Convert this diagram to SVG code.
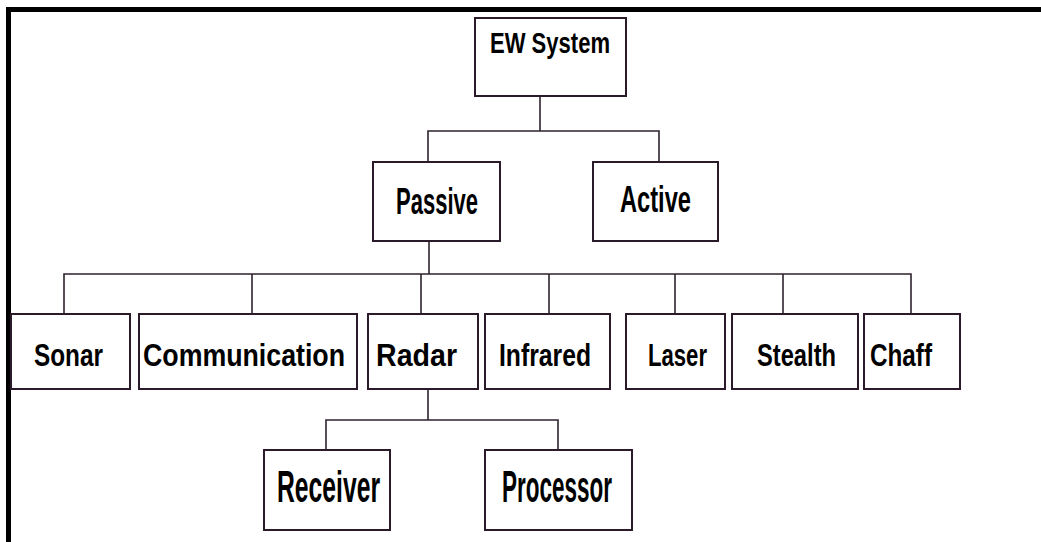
<svg xmlns="http://www.w3.org/2000/svg" width="1041" height="542" viewBox="0 0 1041 542">
  <style>
    .box { fill: #ffffff; stroke: #2a1a2a; stroke-width: 2; }
    .lbl { font-family: "Liberation Sans", Arial, sans-serif; font-weight: bold; fill: #000000; text-anchor: start; }
    .conn { fill: none; stroke: #2e222e; stroke-width: 1.6; }
  </style>
  <rect x="0" y="0" width="1041" height="542" fill="#ffffff"/>
  <g id="frame">
    <rect x="6" y="7" width="1035" height="5" fill="#000000"/>
    <rect x="6" y="7" width="5" height="535" fill="#000000"/>
  </g>
  <g id="connectors">
    <path class="conn" d="M540 96 V131 M428 162 V131 H659 V162"/>
    <path class="conn" d="M429 241 V274 M64 314 V274 H911 V314 M252 274 V314 M421 274 V314 M549 274 V314 M675 274 V314 M783 274 V314"/>
    <path class="conn" d="M428 389 V420 M326 450 V420 H558 V450"/>
  </g>
  <g id="node-ew-system">
    <rect class="box" x="475" y="18" width="151" height="78"/>
    <text class="lbl" x="490" y="53" font-size="29" textLength="120" lengthAdjust="spacingAndGlyphs">EW System</text>
  </g>
  <g id="node-passive">
    <rect class="box" x="373" y="162" width="127" height="79"/>
    <text class="lbl" x="396" y="214" font-size="37" textLength="82" lengthAdjust="spacingAndGlyphs">Passive</text>
  </g>
  <g id="node-active">
    <rect class="box" x="593" y="162" width="125" height="79"/>
    <text class="lbl" x="620" y="212" font-size="37" textLength="71" lengthAdjust="spacingAndGlyphs">Active</text>
  </g>
  <g id="node-sonar">
    <rect class="box" x="11" y="314" width="119" height="75"/>
    <text class="lbl" x="34" y="366" font-size="32" textLength="69" lengthAdjust="spacingAndGlyphs">Sonar</text>
  </g>
  <g id="node-communication">
    <rect class="box" x="139" y="314" width="218" height="75"/>
    <text class="lbl" x="143" y="366" font-size="32" textLength="202" lengthAdjust="spacingAndGlyphs">Communication</text>
  </g>
  <g id="node-radar">
    <rect class="box" x="368" y="314" width="110" height="75"/>
    <text class="lbl" x="376" y="366" font-size="32" textLength="81" lengthAdjust="spacingAndGlyphs">Radar</text>
  </g>
  <g id="node-infrared">
    <rect class="box" x="485" y="314" width="125" height="75"/>
    <text class="lbl" x="499" y="366" font-size="32" textLength="92" lengthAdjust="spacingAndGlyphs">Infrared</text>
  </g>
  <g id="node-laser">
    <rect class="box" x="626" y="314" width="99" height="75"/>
    <text class="lbl" x="648" y="366" font-size="32" textLength="59" lengthAdjust="spacingAndGlyphs">Laser</text>
  </g>
  <g id="node-stealth">
    <rect class="box" x="732" y="314" width="126" height="75"/>
    <text class="lbl" x="757" y="366" font-size="32" textLength="79" lengthAdjust="spacingAndGlyphs">Stealth</text>
  </g>
  <g id="node-chaff">
    <rect class="box" x="864" y="314" width="96" height="75"/>
    <text class="lbl" x="870" y="366" font-size="32" textLength="62" lengthAdjust="spacingAndGlyphs">Chaff</text>
  </g>
  <g id="node-receiver">
    <rect class="box" x="264" y="450" width="126" height="80"/>
    <text class="lbl" x="277" y="502" font-size="44" textLength="103" lengthAdjust="spacingAndGlyphs">Receiver</text>
  </g>
  <g id="node-processor">
    <rect class="box" x="485" y="450" width="147" height="80"/>
    <text class="lbl" x="502" y="502" font-size="44" textLength="110" lengthAdjust="spacingAndGlyphs">Processor</text>
  </g>
</svg>
